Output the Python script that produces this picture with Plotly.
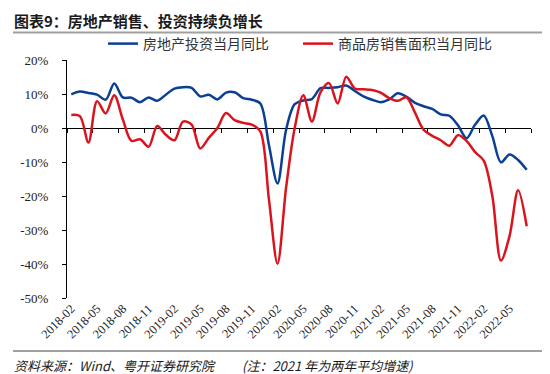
import plotly.graph_objects as go

# ---------------- data ----------------
categories = [f"{y}-{m:02d}" for y in range(2018, 2023) for m in range(1, 13)][1:55]  # 2018-02 .. 2022-07

tick_labels = ["2018-02", "2018-05", "2018-08", "2018-11", "2019-02", "2019-05",
               "2019-08", "2019-11", "2020-02", "2020-05", "2020-08", "2020-11",
               "2021-02", "2021-05", "2021-08", "2021-11", "2022-02", "2022-05"]

investment_yoy = [9.9, 10.7, 10.3, 9.8, 8.3, 13.1, 9.0, 8.9, 7.6, 9.0, 8.0, 9.8,
                  11.6, 12.0, 11.8, 9.3, 9.8, 8.4, 10.4, 10.5, 8.8, 8.3, 7.2,
                  -5.0, -16.3, -0.5, 7.0, 8.1, 8.5, 11.7, 11.8, 12.0, 12.5, 10.9, 9.3,
                  8.3, 7.6, 8.4, 10.2, 9.2, 7.4, 6.4, 5.6, 4.0, 3.6, 0.8, -3.0,
                  1.0, 3.7, -2.4, -10.1, -7.8, -9.4, -12.3]

sales_area_yoy = [3.8, 3.5, -4.3, 7.9, 4.3, 9.6, 2.5, -3.8, -3.3, -5.5, 0.6, -2.0,
                  -3.6, 1.9, 1.0, -6.0, -2.9, 0.0, 4.4, 2.3, 1.5, 1.0, -1.0,
                  -21.0, -39.9, -17.5, 0.0, 9.6, 1.9, 10.5, 13.2, 7.2, 15.1, 11.6, 11.4,
                  11.2, 10.4, 8.8, 8.0, 9.0, 4.5, -0.5, -2.3, -3.6, -5.2, -2.1, -3.8,
                  -7.1, -9.6, -20.0, -39.0, -31.8, -18.3, -28.9]

y_ticks = [-50, -40, -30, -20, -10, 0, 10, 20]
y_tick_text = ["-50%", "-40%", "-30%", "-20%", "-10%", "0%", "10%", "20%"]

series_names = ["房地产投资当月同比", "商品房销售面积当月同比"]

# ---------------- styling ----------------
BLUE = "#0b3f94"
RED = "#d9141e"
SERIF = "Liberation Serif, Times New Roman, serif"
CJK = "Noto Sans CJK SC, sans-serif"

W, H = 550, 374
ML, MR, MT, MB = 59, 27, 52, 84
PW, PH = W - ML - MR, H - MT - MB


def px_x(px):
    return (px - ML) / PW


def px_y(py):
    return (H - MB - py) / PH


idx = list(range(len(categories)))
tick_pos = [categories.index(t) for t in tick_labels]
boundary_ticks = [i - 0.5 for i in range(0, len(categories) + 1, 3)]
x_range = [-0.5, len(categories) - 0.5]
y_range = [y_ticks[0], y_ticks[-1]]
zero_pos = (0 - y_range[0]) / (y_range[1] - y_range[0])

fig = go.Figure()
fig.add_trace(go.Scatter(x=idx, y=investment_yoy, name=series_names[0], mode="lines",
                         customdata=categories,
                         hovertemplate="%{customdata}: %{y:.1f}%<extra></extra>",
                         line=dict(color=BLUE, width=2.5, shape="spline", smoothing=0.9)))
fig.add_trace(go.Scatter(x=idx, y=sales_area_yoy, name=series_names[1], mode="lines",
                         customdata=categories,
                         hovertemplate="%{customdata}: %{y:.1f}%<extra></extra>",
                         line=dict(color=RED, width=2.5, shape="spline", smoothing=0.9)))
# helper (empty) trace so the zero-line axis is created
fig.add_trace(go.Scatter(x=idx, y=[None] * len(idx), xaxis="x2", mode="lines",
                         showlegend=False, hoverinfo="skip"))

fig.update_layout(
    width=W, height=H,
    margin=dict(l=ML, r=MR, t=MT, b=MB, autoexpand=False),
    paper_bgcolor="white", plot_bgcolor="white",
    showlegend=True,
    legend=dict(orientation="h", x=px_x(95), xanchor="left", y=px_y(36), yanchor="middle",
                font=dict(family=CJK, size=14, color="#333333"),
                entrywidth=150, entrywidthmode="pixels",
                bgcolor="rgba(0,0,0,0)"),
    xaxis=dict(range=x_range, tickmode="array", tickvals=tick_pos, ticktext=tick_labels,
               tickangle=-45, showline=False, ticks="", showgrid=False, zeroline=False,
               automargin=False,
               tickfont=dict(family=SERIF, size=12.5, color="#222222")),
    xaxis2=dict(range=x_range, overlaying="x", anchor="free", position=zero_pos,
                side="bottom", showline=True, linecolor="black", linewidth=1,
                tickmode="array", tickvals=boundary_ticks, ticks="outside", ticklen=4,
                tickcolor="black", showticklabels=False, showgrid=False, zeroline=False,
                automargin=False, layer="below traces"),
    yaxis=dict(range=y_range, tickmode="array", tickvals=y_ticks, ticktext=y_tick_text,
               showline=True, linecolor="black", linewidth=1, ticks="outside", ticklen=4,
               tickcolor="black", showgrid=False, zeroline=False, ticklabelstandoff=11,
               automargin=False,
               tickfont=dict(family=SERIF, size=13, color="#222222")),
)

fig.add_annotation(text="<b>图表9：房地产销售、投资持续负增长</b>", xref="paper", yref="paper",
                   x=px_x(4), y=px_y(13), xanchor="left", yanchor="middle", showarrow=False,
                   font=dict(family=CJK, size=15, color="#1a1a1a"))
fig.add_annotation(text="<i>资料来源：Wind、粤开证券研究院</i>", xref="paper", yref="paper",
                   x=px_x(4), y=px_y(357), xanchor="left", yanchor="middle", showarrow=False,
                   font=dict(family=CJK, size=13, color="#1a1a1a"))
fig.add_annotation(text="<i>(注：2021 年为两年平均增速)</i>", xref="paper", yref="paper",
                   x=px_x(232), y=px_y(357), xanchor="left", yanchor="middle", showarrow=False,
                   font=dict(family=CJK, size=13, color="#1a1a1a"))

fig.add_shape(type="line", xref="paper", yref="paper", x0=px_x(5), x1=px_x(547),
              y0=px_y(24.5), y1=px_y(24.5), line=dict(color="#a0a0a0", width=2))
fig.add_shape(type="line", xref="paper", yref="paper", x0=px_x(5), x1=px_x(547),
              y0=px_y(343), y1=px_y(343), line=dict(color="#a0a0a0", width=2))

fig.write_html("out.html")
